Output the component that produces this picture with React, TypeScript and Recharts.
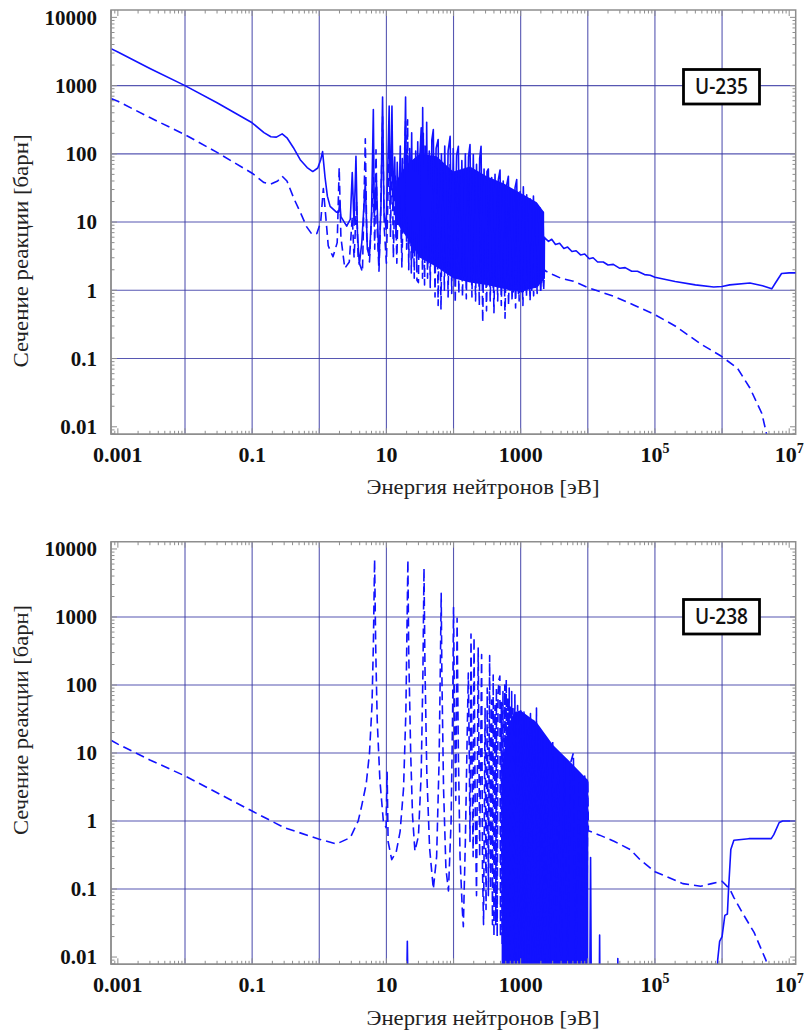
import React from 'react';
import { ComposedChart, Line, Area, XAxis, YAxis, CartesianGrid, ReferenceArea } from 'recharts';

type Pt = [number, number];

// U-235, solid curve (energy eV, barn)
const u235Solid: Pt[] = [
  [0.00079, 3480], [0.001, 3100], [0.003, 1780], [0.01, 1000], [0.03, 560], [0.1, 285], [0.15, 205],
  [0.19, 178], [0.23, 176], [0.28, 196], [0.33, 172], [0.41, 124], [0.52, 82], [0.66, 63], [0.8, 55],
  [0.95, 62], [1.05, 82], [1.12, 108], [1.22, 45], [1.32, 24], [1.45, 17], [1.8, 14], [1.95, 14],
  [2.02, 20], [2.1, 12], [2.56, 8.7], [2.9, 11], [3.1, 53], [3.3, 9], [3.52, 92], [3.7, 7], [3.95, 2.4],
  [4.3, 5], [4.85, 38], [5.2, 4], [5.6, 3.3], [6.0, 12], [6.39, 445], [6.6, 12], [7.1, 40], [7.75, 2.4],
  [8.3, 18], [8.77, 682], [9.2, 14], [9.9, 7.8], [10.4, 45], [11.0, 500], [11.4, 18], [11.7, 60],
  [12.1, 500], [12.6, 15], [13.3, 90], [13.9, 6], [14.5, 75], [15.2, 10], [16.1, 130], [16.7, 5],
  [17.3, 85], [18.1, 9], [19.3, 682], [20.0, 12], [20.7, 95], [21.4, 4], [22.2, 120], [22.9, 6],
  [23.8, 203], [24.6, 3], [25.5, 80], [26.4, 5], [27.3, 110], [28.3, 2.5], [29.3, 150], [30.4, 3],
  [31.5, 90], [33, 240], [34, 4], [34.7, 475], [36, 3], [37.5, 130], [39, 5], [39.8, 290], [41.5, 2.5],
  [43.5, 110], [45.5, 3], [47.5, 160], [50, 227], [52, 2.5], [55, 120], [59, 162], [62, 2.2], [66, 100],
  [70, 2.8], [74, 130], [78, 2.0], [83, 110], [89, 180], [94, 2], [99, 120], [104, 1.6], [111, 95],
  [118, 129], [125, 1.5], [133, 80], [141, 1.6], [150, 100], [158, 1.4], [167, 90], [176, 137],
  [186, 1.4], [197, 98], [208, 1.3], [220, 70], [233, 1.5], [245, 85], [257, 129], [270, 1.3], [285, 60],
  [300, 1.4], [315, 55], [330, 60], [350, 1.2], [370, 45], [392, 1.1], [415, 50], [440, 1.3], [465, 42],
  [493, 58], [520, 1.1], [550, 40], [585, 1.0], [620, 35], [656, 47], [695, 1.0], [735, 30], [780, 0.95],
  [825, 32], [873, 42], [925, 0.9], [980, 28], [1040, 0.95], [1096, 33], [1160, 1.0], [1230, 25],
  [1300, 1.1], [1380, 22], [1460, 1.0], [1550, 24], [1640, 1.1], [1740, 18], [1840, 1.2], [1945, 16],
  [2050, 1.3], [2150, 14], [2240, 1.5], [2260, 6], [2300, 5.8], [2600, 5.2], [2900, 5.6], [3300, 4.7],
  [3800, 4.9], [4400, 4.1], [5000, 4.3], [5800, 3.7], [6700, 3.8], [7800, 3.3], [9000, 3.4],
  [10500, 2.9], [12000, 3.0], [14000, 2.6], [17000, 2.6], [20000, 2.35], [24000, 2.4], [30000, 2.1],
  [36000, 2.15], [45000, 1.9], [55000, 1.9], [70000, 1.7], [85000, 1.66], [1e5, 1.55], [2e5, 1.35],
  [4e5, 1.2], [7.5e5, 1.12], [1e6, 1.14], [1.3e6, 1.2], [2.6e6, 1.28], [4e6, 1.17], [5.5e6, 1.05],
  [6.3e6, 1.3], [7.7e6, 1.76], [1e7, 1.8], [1.25e7, 1.8],
];

// U-235, dashed curve
const u235Dashed: Pt[] = [
  [0.00079, 645], [0.001, 590], [0.003, 340], [0.01, 191], [0.03, 105], [0.1, 52], [0.15, 38],
  [0.19, 36], [0.24, 40], [0.28, 47], [0.33, 40], [0.42, 22], [0.52, 14], [0.65, 8.5], [0.78, 6.6],
  [0.92, 6.8], [1.05, 10], [1.15, 31], [1.25, 12], [1.36, 4.5], [1.6, 3.1], [1.85, 5], [1.98, 63],
  [2.1, 6], [2.4, 2.1], [2.8, 2.6], [3.1, 12], [3.3, 3], [3.6, 20], [3.8, 2.8], [4.4, 1.86], [4.85, 166],
  [5.1, 6], [5.6, 2.6], [6.39, 45], [6.7, 4], [7.0, 115], [7.3, 8], [7.75, 1.9], [8.2, 12], [8.77, 350],
  [9.3, 8], [10, 2.5], [10.6, 30], [11, 220], [11.5, 6], [12.1, 200], [12.7, 3], [13.5, 50], [14.3, 2.5],
  [15, 30], [16.1, 55], [17, 2.2], [18.1, 40], [19.3, 300], [20, 4], [20.7, 316], [21.5, 2], [22.5, 45],
  [23.5, 1.8], [24.5, 70], [26, 1.5], [27.5, 60], [28.5, 1.4], [30, 1.3], [31.5, 80], [33, 120],
  [34.5, 1.5], [35.5, 200], [37, 1.2], [39, 90], [41, 1.5], [43, 60], [45, 1.1], [47, 85], [50, 100],
  [53, 0.8], [56, 60], [59, 0.6], [62, 70], [65, 0.52], [69, 55], [73, 1.0], [78, 65], [83, 0.8],
  [89, 75], [94, 0.9], [100, 50], [106, 0.65], [113, 55], [120, 0.9], [128, 45], [136, 0.8], [145, 50],
  [155, 0.75], [165, 40], [176, 55], [188, 0.8], [200, 38], [213, 0.7], [227, 35], [242, 0.6], [257, 50],
  [272, 0.34], [290, 25], [310, 0.5], [330, 28], [352, 0.7], [375, 22], [400, 0.47], [425, 20],
  [455, 0.7], [485, 24], [515, 0.6], [550, 16], [585, 0.39], [620, 15], [660, 0.6], [700, 14],
  [745, 0.7], [790, 12], [840, 0.55], [890, 11], [950, 0.7], [1010, 10], [1080, 0.6], [1150, 9],
  [1220, 0.8], [1300, 8], [1380, 0.7], [1470, 7], [1560, 0.83], [1660, 6], [1760, 0.9], [1870, 5],
  [1990, 0.9], [2100, 4], [2200, 1.0], [2260, 2.0], [2400, 1.9], [3000, 1.7], [4000, 1.5], [6100, 1.36],
  [1e4, 1.1], [2.4e4, 0.82], [5e4, 0.6], [1e5, 0.44], [2e5, 0.3], [5e5, 0.16], [9.5e5, 0.11],
  [1.7e6, 0.072], [2.6e6, 0.037], [3.9e6, 0.0158], [4.5e6, 0.0087], [5e6, 0.005],
];

// U-235, dense resonance mass: [eV, low, high]
const u235Band: [number, number, number][] = [
  [14, 10, 40], [20, 6, 70], [31.6, 3, 100], [56, 2.2, 92], [99, 1.5, 55], [176, 1.3, 65],
  [312, 1.2, 47], [553, 1.05, 37], [980, 0.95, 27], [1740, 1.1, 19.5], [2240, 1.45, 13.9],
];

// U-238, solid curve
const u238Solid: Pt[] = [
  [0.00079, 0.0001], [19, 0.0001], [20.5, 0.017], [22, 0.0001], [10500, 0.0001], [11000, 0.29],
  [11500, 0.0001], [14500, 0.0001], [15000, 0.021], [15500, 0.0001], [27000, 0.0001], [28000, 0.0095],
  [29000, 0.0001], [8e5, 0.0001], [8.6e5, 0.009], [9.2e5, 0.017], [1.0e6, 0.02], [1.1e6, 0.041],
  [1.2e6, 0.043], [1.25e6, 0.1], [1.35e6, 0.38], [1.5e6, 0.52], [2.5e6, 0.55], [5.4e6, 0.55],
  [5.9e6, 0.63], [7.1e6, 0.95], [8e6, 1.0], [1.25e7, 1.0],
];

// U-238, dashed curve
const u238Dashed: Pt[] = [
  [0.00079, 15.4], [0.001, 13.5], [0.003, 7.9], [0.01, 4.6], [0.03, 2.6], [0.1, 1.4], [0.3, 0.8],
  [1, 0.54], [1.8, 0.46], [2.9, 0.57], [3.8, 1.0], [4.3, 1.7], [5.0, 3.5], [5.6, 10], [6.1, 50],
  [6.4, 400], [6.67, 7000], [6.95, 300], [7.3, 30], [8, 4], [9, 1.0], [9.9, 0.8], [10.25, 5.2],
  [10.6, 0.5], [12, 0.27], [14, 0.35], [16, 0.7], [18, 3], [19.5, 40], [20.3, 800], [20.9, 6900],
  [21.5, 300], [23, 10], [24.5, 1.2], [26.6, 0.36], [30, 0.6], [33, 5], [35, 150], [36.3, 5200],
  [37.5, 200], [40, 5], [44, 0.4], [50, 0.1], [56, 0.3], [61, 8], [64, 300], [65.5, 2220], [67, 150],
  [71, 3], [77, 0.2], [84, 0.094], [92, 1], [97, 40], [100, 1380], [103, 50], [108, 2], [113, 960],
  [118, 10], [125, 0.3], [135, 0.05], [140, 0.028], [150, 0.5], [160, 20], [166, 150], [172, 8],
  [176, 0.5], [182, 560], [190, 3], [196, 0.3], [202, 500], [210, 2], [220, 0.08], [233, 350],
  [245, 0.3], [262, 280], [270, 0.2], [280, 0.03], [295, 45], [305, 0.05], [318, 90], [330, 0.08],
  [345, 270], [355, 0.1], [370, 60], [380, 0.03], [390, 140], [400, 0.02], [415, 50], [425, 0.03],
  [435, 90], [447, 0.02], [460, 70], [475, 120], [490, 135], [500, 0.02], [515, 55], [530, 0.015],
  [545, 80], [560, 0.01], [580, 100], [595, 0.01], [610, 120], [625, 0.008], [645, 65], [660, 0.005],
  [675, 90], [690, 0.005], [705, 50], [720, 0.005], [735, 80], [750, 0.005], [770, 45], [790, 0.005],
  [820, 72], [850, 0.005], [900, 50], [950, 0.005], [1000, 45], [1060, 0.005], [1120, 40],
  [1180, 0.005], [1250, 35], [1320, 0.005], [1400, 38], [1480, 0.005], [1560, 30], [1650, 0.005],
  [1720, 46], [1800, 0.005], [1900, 22], [2000, 0.005], [2150, 18], [2300, 0.005], [2500, 15],
  [2700, 0.005], [3000, 15], [3300, 0.005], [3600, 9], [4000, 0.005], [4500, 8], [5000, 0.005],
  [5500, 7], [6100, 10], [6600, 0.005], [7500, 5], [8200, 0.005], [9000, 4.6], [9600, 0.005],
  [10000, 4.0], [10200, 0.72], [15000, 0.62], [25000, 0.5], [43000, 0.38], [60000, 0.27], [1e5, 0.18],
  [2.6e5, 0.12], [4.8e5, 0.11], [7e5, 0.12], [1e6, 0.13], [1.3e6, 0.1], [1.5e6, 0.075], [2e6, 0.045],
  [3e6, 0.023], [4.5e6, 0.009], [5e6, 0.006],
];

// U-238, dense resonance mass: [eV, low, high]
const u238Band: [number, number, number][] = [
  [520, 0.005, 6], [650, 0.005, 25], [800, 0.005, 40], [1000, 0.005, 42], [1740, 0.005, 28],
  [3060, 0.005, 13], [5400, 0.005, 7.5], [9600, 0.005, 4.2], [10100, 0.005, 4],
];

const xLabels = [0.001, 0.1, 10, 1000, 1e5, 1e7];
const yLabels = [0.01, 0.1, 1, 10, 100, 1000, 10000];
const xGrid = [0.01, 0.1, 1, 10, 100, 1000, 1e4, 1e5, 1e6];
const yGrid = [0.1, 1, 10, 100, 1000];

const BLUE = '#1212ff';
const AXIS = '#8e8e8e';
const GRID = '#3a3aa4';
const PW = 685;
const X_DOMAIN: [number, number] = [0.00079, 1.25e7];

function logTicks(lo: number, hi: number) {
  const out: number[] = [];
  for (let d = -4; d <= 8; d++) {
    for (let m = 1; m <= 9; m++) {
      const v = +(m * Math.pow(10, d)).toPrecision(6);
      if (v >= lo && v <= hi) out.push(v);
    }
  }
  return out;
}

const isMajor = (v: number) => {
  const lg = Math.log10(v);
  return Math.abs(lg - Math.round(lg)) < 1e-6;
};
const inList = (list: number[], v: number) => list.some((l) => Math.abs(l - v) / l < 1e-6);

function XTick(props: any) {
  const { x, y, payload, ph } = props;
  const v = payload.value;
  const len = isMajor(v) ? 6 : 3.5;
  const lg = Math.round(Math.log10(v));
  return (
    <g>
      <line x1={x} x2={x} y1={y} y2={y - len} stroke={AXIS} />
      <line x1={x} x2={x} y1={y - ph} y2={y - ph + len} stroke={AXIS} />
      {inList(xLabels, v) && (
        <text x={x} y={y + 28} textAnchor="middle" fontFamily="'Liberation Serif', serif" fontWeight={700} fontSize={22} fill="#111">
          {v >= 1e5 ? (
            <>
              10<tspan dy={-9} fontSize={14}>{lg}</tspan>
            </>
          ) : (
            String(v)
          )}
        </text>
      )}
    </g>
  );
}

function YTick(props: any) {
  const { x, y, payload } = props;
  const v = payload.value;
  const len = isMajor(v) ? 6 : 3.5;
  return (
    <g>
      <line x1={x} x2={x + len} y1={y} y2={y} stroke={AXIS} />
      <line x1={x + PW} x2={x + PW - len} y1={y} y2={y} stroke={AXIS} />
      {inList(yLabels, v) && (
        <text x={x - 14} y={y} dy="0.35em" textAnchor="end" fontFamily="'Liberation Serif', serif" fontWeight={700} fontSize={21} fill="#111">
          {String(v)}
        </text>
      )}
    </g>
  );
}

const rows = (pts: Pt[]) => pts.map(([e, s]) => ({ e, s }));
const bandRows = (b: [number, number, number][]) => b.map(([e, lo, hi]) => ({ e, r: [lo, hi] }));

function Panel(props: {
  solid: Pt[];
  dashed: Pt[];
  band: [number, number, number][];
  yDomain: [number, number];
  height: number;
  top: number;
  bottom: number;
}) {
  const { solid, dashed, band, yDomain, height, top, bottom } = props;
  const ph = height - top - bottom - 30;
  return (
    <ComposedChart width={805} height={height} margin={{ top, right: 9.3, bottom, left: 51 }}>
      <CartesianGrid verticalValues={xGrid} horizontalValues={yGrid} stroke={GRID} strokeOpacity={0.85} strokeWidth={1.1} />
      <XAxis
        dataKey="e"
        type="number"
        scale="log"
        domain={X_DOMAIN}
        allowDataOverflow
        ticks={logTicks(X_DOMAIN[0], X_DOMAIN[1])}
        interval={0}
        tickSize={0}
        tickMargin={0}
        tickLine={false}
        axisLine={{ stroke: AXIS, strokeWidth: 1.5 }}
        height={30}
        tick={(p: any) => <XTick {...p} ph={ph} />}
      />
      <YAxis
        type="number"
        scale="log"
        domain={yDomain}
        allowDataOverflow
        ticks={logTicks(yDomain[0], yDomain[1])}
        interval={0}
        tickSize={0}
        tickMargin={0}
        tickLine={false}
        axisLine={{ stroke: AXIS, strokeWidth: 1.5 }}
        width={60}
        tick={(p: any) => <YTick {...p} />}
      />
      <ReferenceArea x1={X_DOMAIN[0]} x2={X_DOMAIN[1]} y1={yDomain[0]} y2={yDomain[1]} fill="none" stroke={AXIS} strokeWidth={1.5} />
      <Area
        data={bandRows(band)}
        dataKey="r"
        type="linear"
        stroke="none"
        fill={BLUE}
        fillOpacity={1}
        isAnimationActive={false}
        activeDot={false}
      />
      <Line
        data={rows(dashed)}
        dataKey="s"
        type="linear"
        stroke={BLUE}
        strokeWidth={1.6}
        strokeDasharray="9 5"
        strokeLinejoin="round"
        dot={false}
        activeDot={false}
        isAnimationActive={false}
      />
      <Line
        data={rows(solid)}
        dataKey="s"
        type="linear"
        stroke={BLUE}
        strokeWidth={1.6}
        strokeLinejoin="round"
        dot={false}
        activeDot={false}
        isAnimationActive={false}
      />
    </ComposedChart>
  );
}

const titleFont = "'Liberation Serif', serif";

export default function App() {
  return (
    <div style={{ position: 'absolute', left: 0, top: 0, width: 805, height: 1032, background: '#fff' }}>
      <div style={{ position: 'absolute', left: 0, top: 0 }}>
        <Panel solid={u235Solid} dashed={u235Dashed} band={u235Band} yDomain={[0.00776, 12820]} height={520} top={10} bottom={55.7} />
      </div>
      <div style={{ position: 'absolute', left: 0, top: 520 }}>
        <Panel solid={u238Solid} dashed={u238Dashed} band={u238Band} yDomain={[0.00782, 12790]} height={512} top={21.7} bottom={37.7} />
      </div>
      <svg width={805} height={1032} style={{ position: 'absolute', left: 0, top: 0, pointerEvents: 'none' }}>
        <text x={483} y={494} textAnchor="middle" fontFamily={titleFont} fontSize={21} fill="#222" textLength={233} lengthAdjust="spacingAndGlyphs">
          Энергия нейтронов [эВ]
        </text>
        <text x={483} y={1025} textAnchor="middle" fontFamily={titleFont} fontSize={21} fill="#222" textLength={233} lengthAdjust="spacingAndGlyphs">
          Энергия нейтронов [эВ]
        </text>
        <text transform="translate(28,251) rotate(-90)" textAnchor="middle" fontFamily={titleFont} fontSize={21} fill="#222" textLength={233} lengthAdjust="spacingAndGlyphs">
          Сечение реакции [барн]
        </text>
        <text transform="translate(28,720) rotate(-90)" textAnchor="middle" fontFamily={titleFont} fontSize={21} fill="#222" textLength={230} lengthAdjust="spacingAndGlyphs">
          Сечение реакции [барн]
        </text>
        <rect x={683.5} y={69.5} width={76} height={34.5} fill="#fff" stroke="#000" strokeWidth={2.8} />
        <text x={721.5} y={94} textAnchor="middle" fontFamily="'Open Sans', sans-serif" fontWeight={600} fontSize={22} fill="#111" textLength={53} lengthAdjust="spacingAndGlyphs">
          U-235
        </text>
        <rect x={683.5} y={599.5} width={76} height={34.5} fill="#fff" stroke="#000" strokeWidth={2.8} />
        <text x={721.5} y={624} textAnchor="middle" fontFamily="'Open Sans', sans-serif" fontWeight={600} fontSize={22} fill="#111" textLength={53} lengthAdjust="spacingAndGlyphs">
          U-238
        </text>
      </svg>
    </div>
  );
}
